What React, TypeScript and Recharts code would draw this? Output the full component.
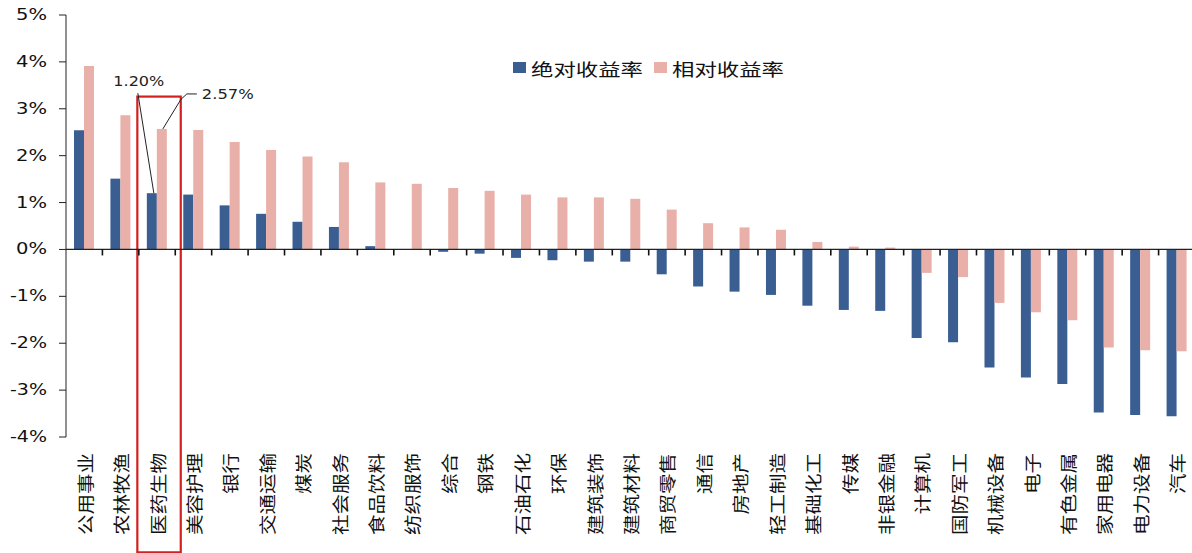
import {
  BarChart,
  Bar,
  XAxis,
  YAxis,
  Legend,
  LabelList,
  ReferenceLine,
  ReferenceArea,
} from 'recharts'

const categories = [
  '公用事业', '农林牧渔', '医药生物', '美容护理', '银行', '交通运输', '煤炭', '社会服务',
  '食品饮料', '纺织服饰', '综合', '钢铁', '石油石化', '环保', '建筑装饰', '建筑材料',
  '商贸零售', '通信', '房地产', '轻工制造', '基础化工', '传媒', '非银金融', '计算机',
  '国防军工', '机械设备', '电子', '有色金属', '家用电器', '电力设备', '汽车',
]

const absoluteReturn = [
  2.54, 1.51, 1.2, 1.17, 0.94, 0.76, 0.59, 0.48, 0.07, 0.0, -0.05, -0.09, -0.18, -0.23, -0.26, -0.26,
  -0.53, -0.79, -0.9, -0.97, -1.2, -1.29, -1.31, -1.89, -1.98, -2.52, -2.73, -2.87, -3.48, -3.53, -3.56,
]

const relativeReturn = [
  3.91, 2.86, 2.57, 2.55, 2.29, 2.12, 1.98, 1.86, 1.43, 1.4, 1.31, 1.25, 1.17, 1.11, 1.11, 1.08,
  0.85, 0.56, 0.47, 0.42, 0.16, 0.06, 0.04, -0.5, -0.59, -1.14, -1.34, -1.51, -2.09, -2.15, -2.17,
]

const yTicks = [-4, -3, -2, -1, 0, 1, 2, 3, 4, 5]

const seriesOrder = ['abs', 'rel']

// highlighted sector and the box drawn round it
const HIGHLIGHT = 2
const boxTop = 3.26
const boxBottom = -6.46

const BLUE = '#3A5E92'
const PINK = '#E8B0A9'
const RED = '#D2201F'
const NUM_FONT = '"DejaVu Sans", Verdana, sans-serif'
const CJK_FONT = '"Noto Sans CJK SC", "Noto Sans", sans-serif'

const data = categories.map((name, i) => ({
  name,
  abs: absoluteReturn[i],
  rel: relativeReturn[i],
}))

function YTick({ x, y, payload }: any) {
  const label = `${payload.value}%`
  return (
    <text
      x={x}
      y={y}
      textAnchor="end"
      dominantBaseline="central"
      fontSize={15}
      fontFamily={NUM_FONT}
      fill="#111"
      textLength={label.length === 2 ? 31 : 37}
      lengthAdjust="spacingAndGlyphs"
    >
      {label}
    </text>
  )
}

function CategoryTick({ x, y, payload }: any) {
  const text: string = payload.value
  return (
    <text
      x={x}
      y={y}
      transform={`rotate(-90 ${x} ${y})`}
      textAnchor="end"
      dominantBaseline="central"
      fontSize={17}
      fontFamily={CJK_FONT}
      fill="#111"
      textLength={text.length * 20.5}
      lengthAdjust="spacingAndGlyphs"
    >
      {text}
    </text>
  )
}

// zero line with the category boundary ticks hanging under it
function ZeroAxis({ x1, y1, x2 }: any) {
  const step = (x2 - x1) / categories.length
  return (
    <g>
      <line x1={x1} y1={y1} x2={x2} y2={y1} stroke="#222" strokeWidth={1.2} />
      {categories.map((c, i) => (
        <line
          key={c}
          x1={x1 + step * (i + 1)}
          x2={x1 + step * (i + 1)}
          y1={y1}
          y2={y1 + 6}
          stroke="#111"
          strokeWidth={1.6}
        />
      ))}
    </g>
  )
}

function HighlightBox({ x, y, width, height }: any) {
  return (
    <rect x={x - 1.5} y={y} width={width + 7} height={height} fill="none" stroke={RED} strokeWidth={2.2} />
  )
}

function AbsNote({ x, y, width, index, value }: any) {
  if (index !== HIGHLIGHT) return null
  const bx = x + width * 0.7
  return (
    <g>
      <line x1={bx} y1={y} x2={x - 9} y2={y - 100} stroke="#222" strokeWidth={1} />
      <text
        x={x - 33.5}
        y={y - 112}
        dominantBaseline="central"
        fontSize={14}
        fontFamily={NUM_FONT}
        fill="#222"
        textLength={51}
        lengthAdjust="spacingAndGlyphs"
      >
        {`${Number(value).toFixed(2)}%`}
      </text>
    </g>
  )
}

function RelNote({ x, y, width, index, value }: any) {
  if (index !== HIGHLIGHT) return null
  const bx = x + width * 0.6
  return (
    <g>
      <polyline
        points={`${bx},${y} ${x + 24},${y - 29.5} ${x + 30},${y - 35} ${x + 40},${y - 35}`}
        fill="none"
        stroke="#222"
        strokeWidth={1}
      />
      <text
        x={x + 45}
        y={y - 34.5}
        dominantBaseline="central"
        fontSize={14}
        fontFamily={NUM_FONT}
        fill="#222"
        textLength={52}
        lengthAdjust="spacingAndGlyphs"
      >
        {`${Number(value).toFixed(2)}%`}
      </text>
    </g>
  )
}

function LegendContent({ payload }: any) {
  const items = [...(payload ?? [])].sort(
    (a: any, b: any) => seriesOrder.indexOf(a.dataKey) - seriesOrder.indexOf(b.dataKey),
  )
  return (
    <svg width={290} height={24} style={{ display: 'block' }}>
      {items.map((item: any, i: number) => {
        const ox = i * 141
        return (
          <g key={item.value}>
            <rect x={ox + 3} y={6} width={13} height={11} fill={item.color} />
            <text
              x={ox + 21}
              y={12}
              dominantBaseline="central"
              fontSize={17}
              fontFamily={CJK_FONT}
              fill="#111"
              textLength={112}
              lengthAdjust="spacingAndGlyphs"
            >
              {item.value}
            </text>
          </g>
        )
      })}
    </svg>
  )
}

export default function App() {
  return (
    <div
      style={{
        position: 'absolute',
        left: 0,
        top: 0,
        width: 1192,
        height: 553,
        overflow: 'hidden',
        background: '#fff',
      }}
    >
      <BarChart
        width={1200}
        height={553}
        data={data}
        margin={{ top: 15, right: 5, bottom: 0, left: 0 }}
        barSize={10}
        barGap={0}
      >
        <XAxis
          dataKey="name"
          interval={0}
          axisLine={false}
          tickLine={false}
          height={116}
          tickMargin={10}
          tick={<CategoryTick />}
        />
        <YAxis
          width={66}
          domain={[-4, 5]}
          ticks={yTicks}
          interval={0}
          axisLine={{ stroke: '#222' }}
          tickLine={{ stroke: '#222' }}
          tickSize={7}
          tickMargin={12}
          tick={<YTick />}
        />
        <Legend
          layout="horizontal"
          verticalAlign="middle"
          align="center"
          content={<LegendContent />}
          wrapperStyle={{ top: 56, left: 510, width: 290 }}
        />
        <Bar dataKey="abs" name="绝对收益率" fill={BLUE} isAnimationActive={false}>
          <LabelList dataKey="abs" content={<AbsNote />} />
        </Bar>
        <Bar dataKey="rel" name="相对收益率" fill={PINK} isAnimationActive={false}>
          <LabelList dataKey="rel" content={<RelNote />} />
        </Bar>
        <ReferenceLine y={0} ifOverflow="visible" shape={<ZeroAxis />} />
        <ReferenceArea
          x1={categories[HIGHLIGHT]}
          x2={categories[HIGHLIGHT]}
          y1={boxBottom}
          y2={boxTop}
          ifOverflow="visible"
          shape={<HighlightBox />}
        />
      </BarChart>
    </div>
  )
}
